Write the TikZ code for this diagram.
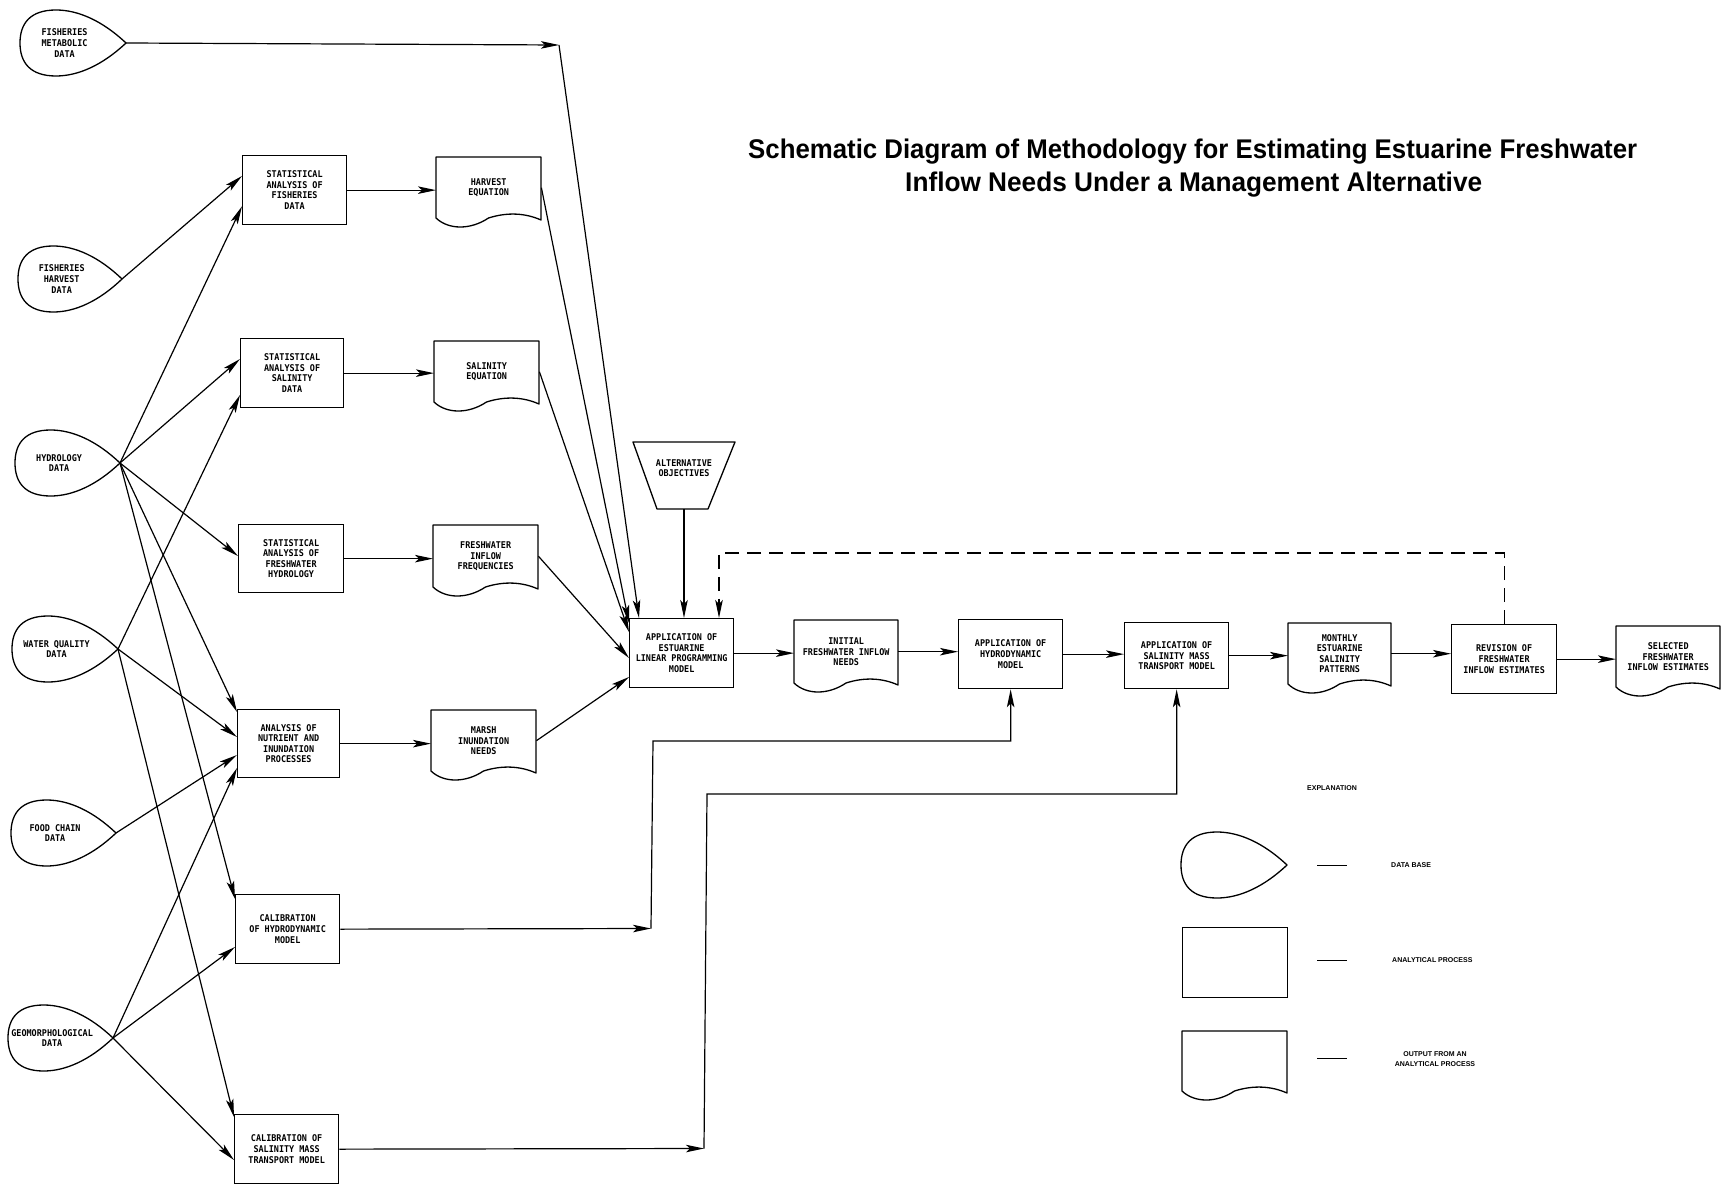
\documentclass[tikz,border=0pt]{standalone}
\usepackage{fontspec}
\usepackage{graphicx}
\usetikzlibrary{arrows.meta,calc}
\newfontfamily\boxfont{DejaVu Sans Mono}[FakeStretch=0.91]
\newfontfamily\titlefont{Liberation Sans}
\newfontfamily\legfont{Liberation Sans}
\newlength\tlenA
\newlength\tlenB
\tikzset{
  shp/.style={line width=1.3pt, line join=round},
  ln/.style={line width=1.2pt},
  tip/.style={-{Stealth[length=18pt,width=7.5pt,inset=4pt]}},
  arr/.style={ln, tip},
  txt/.style={font=\boxfont\bfseries\fontsize{9.3}{10.6}\selectfont, align=center, inner sep=0pt},
  boxn/.style={draw, line width=1.3pt, anchor=north west, inner sep=0pt, txt},
  docn/.style={anchor=north west, inner sep=0pt, txt},
  dsh/.style={line width=1.3pt, dash pattern=on 14pt off 8pt},
  legtxt/.style={font=\legfont\bfseries\fontsize{7}{9.5}\selectfont, align=center, inner sep=0pt},
}
% process box: name, x, y (top-left), width, height, text
\newcommand\procbox[6]{\node[boxn, minimum width=#4pt, minimum height=#5pt] (#1) at (#2,#3) {#6};}
% output document: name, x, y (top-left), width, height, text
\newcommand\docbox[6]{%
  \node[docn, minimum width=#4pt, minimum height=#5pt] (#1) at (#2,#3) {#6};
  \draw[shp] (#2,{#3+#5}) -- (#2,#3) -- ({#2+#4},#3) -- ({#2+#4},{#3+#5+2})
    .. controls ({#2+0.85*#4},{#3+#5-5}) and ({#2+0.68*#4},{#3+#5-6}) .. ({#2+0.5*#4},{#3+#5})
    .. controls ({#2+0.33*#4},{#3+#5+12}) and ({#2+0.12*#4},{#3+#5+12}) .. (#2,{#3+#5}) -- cycle;}
% data base teardrop: name, tip x, tip y, width, text
\newcommand\datadrop[5]{%
  \coordinate (#1tip) at (#2,#3);
  \draw[shp] (#2,#3) .. controls ({#2-0.22*#4},{#3-22}) and ({#2-0.45*#4},{#3-33}) .. ({#2-0.66*#4},{#3-33})
    .. controls ({#2-0.9*#4},{#3-33}) and ({#2-#4},{#3-20}) .. ({#2-#4},#3)
    .. controls ({#2-#4},{#3+20}) and ({#2-0.9*#4},{#3+33}) .. ({#2-0.66*#4},{#3+33})
    .. controls ({#2-0.45*#4},{#3+33}) and ({#2-0.22*#4},{#3+22}) .. (#2,#3) -- cycle;
  \node[txt] (#1) at ({#2-0.58*#4},#3) {#5};}
\newcommand\titlelineA{Schematic Diagram of Methodology for Estimating Estuarine Freshwater}
\newcommand\titlelineB{Inflow Needs Under a Management Alternative}
\newcommand\titlefmt{\titlefont\bfseries\fontsize{27}{32}\selectfont}
\begin{document}
\settowidth\tlenA{\titlefmt\titlelineA}%
\settowidth\tlenB{\titlefmt\titlelineB}%
\pgfmathsetmacro\ta{889/\tlenA}%
\pgfmathsetmacro\tb{577/\tlenB}%
\begin{tikzpicture}[x=1pt,y=-1pt]
\useasboundingbox (0,0) rectangle (1732,1185);

% ---------- title ----------
\node[anchor=base west, inner sep=0pt] (title1) at (748,159) {\scalebox{\ta}[1]{\titlefmt\titlelineA}};
\node[anchor=base west, inner sep=0pt] (title2) at (905,192) {\scalebox{\tb}[1]{\titlefmt\titlelineB}};

% ---------- data bases ----------
\datadrop{met}{126}{43}{106}{FISHERIES\\METABOLIC\\DATA}
\datadrop{fhv}{122}{279}{104}{FISHERIES\\HARVEST\\DATA}
\datadrop{hyd}{120}{463}{105}{HYDROLOGY\\DATA}
\datadrop{wq}{118}{649}{106}{WATER QUALITY\\DATA}
\datadrop{fc}{116}{833}{105}{FOOD CHAIN\\DATA}
\datadrop{geo}{113}{1038}{105}{GEOMORPHOLOGICAL\\DATA}

% ---------- analytical processes ----------
\procbox{sfish}{242}{155}{104}{69}{STATISTICAL\\ANALYSIS OF\\FISHERIES\\DATA}
\procbox{ssal}{240}{338}{103}{69}{STATISTICAL\\ANALYSIS OF\\SALINITY\\DATA}
\procbox{sfw}{238}{524}{105}{68}{STATISTICAL\\ANALYSIS OF\\FRESHWATER\\HYDROLOGY}
\procbox{nut}{237}{709}{102}{68}{ANALYSIS OF\\NUTRIENT AND\\INUNDATION\\PROCESSES}
\procbox{chyd}{235}{894}{104}{69}{CALIBRATION\\OF HYDRODYNAMIC\\MODEL}
\procbox{csal}{234}{1114}{104}{69}{CALIBRATION OF\\SALINITY MASS\\TRANSPORT MODEL}
\procbox{lp}{629}{618}{104}{69}{APPLICATION OF\\ESTUARINE\\LINEAR PROGRAMMING\\MODEL}
\procbox{ahyd}{958}{619}{104}{69}{APPLICATION OF\\HYDRODYNAMIC\\MODEL}
\procbox{asal}{1124}{622}{104}{66}{APPLICATION OF\\SALINITY MASS\\TRANSPORT MODEL}
\procbox{rev}{1451}{624}{105}{69}{REVISION OF\\FRESHWATER\\INFLOW ESTIMATES}

% ---------- outputs ----------
\docbox{harv}{436}{157}{105}{61}{HARVEST\\EQUATION}
\docbox{saleq}{434}{341}{105}{61}{SALINITY\\EQUATION}
\docbox{fwf}{433}{525}{105}{62}{FRESHWATER\\INFLOW\\FREQUENCIES}
\docbox{marsh}{431}{710}{105}{61}{MARSH\\INUNDATION\\NEEDS}
\docbox{init}{794}{620}{104}{63}{INITIAL\\FRESHWATER INFLOW\\NEEDS}
\docbox{month}{1288}{623}{103}{61}{MONTHLY\\ESTUARINE\\SALINITY\\PATTERNS}
\docbox{sel}{1616}{626}{104}{61}{SELECTED\\FRESHWATER\\INFLOW ESTIMATES}

% ---------- alternative objectives ----------
\draw[shp] (633,442) -- (735,442) -- (708,509) -- (657,509) -- cycle;
\node[txt, minimum width=102pt, minimum height=67pt] (alt) at (684,475.5) {ALTERNATIVE\\OBJECTIVES\\[4pt]};

% ---------- connectors ----------
\coordinate (j0) at (559,45);
\draw[arr] (mettip) -- (j0);
\draw[arr] (j0) -- ($(lp.north west)+(10,0)$);

\draw[arr] (fhvtip) -- ($(sfish.north west)+(0,21)$);
\draw[arr] (hydtip) -- ($(sfish.south west)+(0,-19)$);
\draw[arr] (hydtip) -- ($(ssal.north west)+(0,21)$);
\draw[arr] (wqtip) -- ($(ssal.north west)+(0,57)$);
\draw[arr] (hydtip) -- ($(sfw.north west)+(0,32)$);
\draw[arr] (hydtip) -- ($(nut.north west)+(0,3)$);
\draw[arr] (wqtip) -- ($(nut.north west)+(0,28)$);
\draw[arr] (fctip) -- ($(nut.north west)+(0,46)$);
\draw[arr] (geotip) -- ($(nut.north west)+(0,59)$);
\draw[arr] (hydtip) -- ($(chyd.north west)+(0,5)$);
\draw[arr] (geotip) -- ($(chyd.north west)+(0,53)$);
\draw[arr] (wqtip) -- ($(csal.north west)+(0,3)$);
\draw[arr] (geotip) -- ($(csal.north west)+(0,46)$);

\draw[arr] (sfish.east) -- (sfish.east -| harv.west);
\draw[arr] (ssal.east) -- (ssal.east -| saleq.west);
\draw[arr] (sfw.east) -- (sfw.east -| fwf.west);
\draw[arr] (nut.east) -- (nut.east -| marsh.west);

\draw[arr] (harv.east) -- ($(lp.north west)+(0,5)$);
\draw[arr] (saleq.east) -- ($(lp.north west)+(0,14)$);
\draw[arr] (fwf.east) -- ($(lp.north west)+(0,40)$);
\draw[arr] (marsh.east) -- ($(lp.north west)+(0,59)$);

\draw[arr] (alt.south) -- (alt.south |- lp.north);

\coordinate (dk) at (719,553);
\draw[dsh, tip] (rev.north) |- (dk) -- (dk |- lp.north);

\draw[arr] (lp.east) -- (lp.east -| init.west);
\draw[arr] (init.east) -- (init.east -| ahyd.west);
\draw[arr] (ahyd.east) -- (ahyd.east -| asal.west);
\draw[arr] (asal.east) -- (asal.east -| month.west);
\draw[arr] (month.east) -- (month.east -| rev.west);
\draw[arr] (rev.east) -- (rev.east -| sel.west);

\coordinate (j1) at (651,928.5);
\coordinate (j2) at (653,741);
\draw[arr] (chyd.east) -- (j1);
\draw[arr] (j1) -- (j2) -| (ahyd.south);
\coordinate (j3) at (704,1148.5);
\coordinate (j4) at (707,794);
\draw[arr] (csal.east) -- (j3);
\draw[arr] (j3) -- (j4) -| (asal.south);

% ---------- explanation ----------
\node[legtxt] (expl) at (1332,788) {EXPLANATION};
\datadrop{legdb}{1287}{865}{106}{}
\procbox{legap}{1182}{927}{105}{70}{}
\docbox{legout}{1182}{1031}{105}{60}{}
\draw[line width=1pt] (1317,865) -- (1347,865);
\draw[line width=1pt] (1317,960) -- (1347,960);
\draw[line width=1pt] (1317,1058) -- (1347,1058);
\node[legtxt, anchor=west] (lt1) at (1391,865) {DATA BASE};
\node[legtxt, anchor=west] (lt2) at (1392,960) {ANALYTICAL PROCESS};
\node[legtxt] (lt3) at (1435,1059) {OUTPUT FROM AN\\ANALYTICAL PROCESS};
\end{tikzpicture}
\end{document}
